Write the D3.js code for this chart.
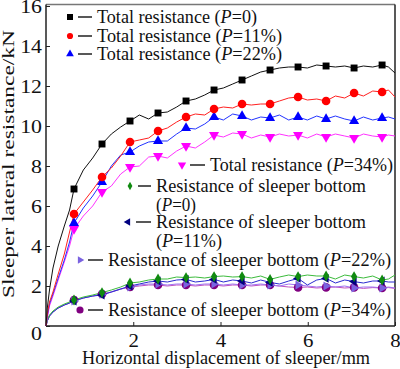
<!DOCTYPE html>
<html><head><meta charset="utf-8">
<script src="https://cdn.jsdelivr.net/npm/d3@7"></script>
<style>body{margin:0;background:#fff}svg{display:block}text{font-family:"Liberation Serif","Times New Roman",serif;fill:#111}</style>
</head><body><svg id="c" width="400" height="369"></svg>
<script>
const xs = [0,0.03,0.08,0.16,0.28,0.42,0.54,0.642,0.856,1.07,1.284,1.498,1.712,1.926,2.14,2.354,2.568,2.782,2.996,3.21,3.424,3.638,3.852,4.066,4.28,4.494,4.708,4.922,5.136,5.35,5.564,5.778,5.992,6.206,6.42,6.634,6.848,7.062,7.276,7.49,7.704,7.85,8.0];
const totalP0  = [0,0.9,1.8,2.9,4.0,5.0,5.8,6.85,7.8,8.4,9.1,9.6,9.95,10.25,10.55,10.35,10.65,10.7,10.95,11.25,11.35,11.55,11.8,11.9,12.1,12.3,12.5,12.7,12.8,12.9,12.95,12.95,12.9,13.05,13.0,12.95,13.0,12.9,13.0,12.95,13.05,12.95,12.65];
const totalP11 = [0,0.6,1.2,1.7,2.6,3.6,4.7,5.6,6.2,6.8,7.45,7.9,8.5,9.2,9.3,9.4,9.75,9.9,10.2,10.45,10.6,10.55,10.85,10.95,10.9,11.1,11.05,11.1,11.1,11.25,11.4,11.45,11.3,11.35,11.25,11.5,11.4,11.65,11.5,11.75,11.7,11.8,11.45];
const totalP22 = [0,0.5,1.1,1.6,2.4,3.3,4.2,5.15,5.9,6.5,7.2,8.0,8.55,8.7,9.0,9.2,9.25,9.25,9.6,9.9,9.85,10.1,10.45,10.3,10.6,10.5,10.3,10.45,10.4,10.55,10.3,10.45,10.3,10.5,10.35,10.5,10.35,10.25,10.45,10.3,10.4,10.45,10.35];
const totalP34 = [0,0.4,1.0,1.5,2.3,3.2,4.0,4.85,5.5,6.0,6.7,7.0,7.6,7.95,8.0,8.45,8.5,8.4,8.75,9.0,8.9,9.2,9.55,9.45,9.65,9.6,9.4,9.55,9.45,9.6,9.5,9.55,9.4,9.6,9.45,9.6,9.5,9.4,9.6,9.5,9.45,9.55,9.5];
const bottomP0  = [0,0.3,0.55,0.75,0.95,1.1,1.2,1.3,1.45,1.55,1.67,1.8,1.95,2.15,2.2,2.3,2.35,2.35,2.45,2.42,2.45,2.4,2.47,2.5,2.45,2.47,2.4,2.5,2.33,2.45,2.55,2.47,2.55,2.5,2.5,2.35,2.55,2.47,2.4,2.5,2.3,2.35,2.55];
const bottomP11 = [0,0.25,0.5,0.7,0.9,1.05,1.15,1.25,1.4,1.5,1.55,1.7,1.85,2.0,2.1,2.2,2.25,2.2,2.3,2.33,2.2,2.25,2.33,2.2,2.3,2.25,2.15,2.3,2.18,2.1,2.25,2.38,2.05,2.3,2.38,2.15,2.3,2.22,2.15,2.25,2.25,2.2,2.2];
const bottomP22 = [0,0.25,0.5,0.7,0.9,1.05,1.15,1.25,1.4,1.5,1.58,1.7,1.85,1.95,2.05,2.1,2.1,2.05,2.1,2.1,2.05,2.1,2.1,2.05,2.1,2.05,2.05,2.1,2.05,2.0,2.1,2.05,2.0,1.95,2.0,1.95,2.0,1.9,1.95,1.95,1.9,1.95,1.9];
const bottomP34 = [0,0.25,0.5,0.7,0.9,1.05,1.15,1.3,1.4,1.5,1.6,1.7,1.85,1.95,2.0,2.05,2.05,2.0,2.05,2.05,2.0,2.05,2.05,2.0,2.05,2.05,2.0,2.05,2.05,2.0,1.95,1.93,1.95,1.9,1.93,1.95,1.9,1.93,1.88,1.92,1.9,1.92,1.88];
const xTicks = [0,2,4,6,8];
const yTicks = [0,2,4,6,8,10,12,14,16];

const series = [
  {name:"Total resistance", p:"0",   v:totalP0,  line:"#111", fill:"#000", shape:"square"},
  {name:"Total resistance", p:"11%", v:totalP11, line:"#ff2020", fill:"#ff0000", shape:"circle"},
  {name:"Total resistance", p:"22%", v:totalP22, line:"#2233ff", fill:"#0000ff", shape:"tri"},
  {name:"Total resistance", p:"34%", v:totalP34, line:"#ff33ff", fill:"#ff00ff", shape:"trid"},
  {name:"Resistance of sleeper bottom", p:"0",   v:bottomP0,  line:"#3cbb3c", fill:"#108a10", shape:"diamond"},
  {name:"Resistance of sleeper bottom", p:"11%", v:bottomP11, line:"#2a2ad0", fill:"#000080", shape:"tril"},
  {name:"Resistance of sleeper bottom", p:"22%", v:bottomP22, line:"#a070f0", fill:"#7a62e0", shape:"trir"},
  {name:"Resistance of sleeper bottom", p:"34%", v:bottomP34, line:"#c050c0", fill:"#800080", shape:"circle"}
];

const svg = d3.select("#c");
const L=46, R=395, T=6, B=326;
const x = d3.scaleLinear().domain([0,8]).range([L,R]);
const y = d3.scaleLinear().domain([0,16]).range([B,T]);

function sym(shape, size){
  if(shape==="square") return d3.symbol(d3.symbolSquare, size)();
  if(shape==="circle") return d3.symbol(d3.symbolCircle, size)();
  if(shape==="diamond") return d3.symbol(d3.symbolDiamond, size)();
  return d3.symbol(d3.symbolTriangle, size)();
}
function rot(shape){ return shape==="trid"?180:shape==="tril"?-90:shape==="trir"?90:0; }
const msize = {square:48,circle:58,tri:44,trid:44,diamond:34,tril:34,trir:34};
function stretch(sel,k){ sel.each(function(){ const e=d3.select(this); const tx=+(e.attr("x")||0), ty=+(e.attr("y")||0);
  e.attr("transform",`translate(${tx},${ty}) scale(${k},1) translate(${-tx},${-ty})`); }); }

// axes
const xAxis = d3.axisBottom(x).tickValues(xTicks).tickSize(-4).tickPadding(8).tickFormat(d=>d===0?"":d);
const gx = svg.append("g").attr("transform",`translate(0,${B})`).call(xAxis);
const yAxis = d3.axisLeft(y).tickValues(yTicks).tickSize(-4).tickPadding(4);
const gy = svg.append("g").attr("transform",`translate(${L},0)`).call(yAxis);
[gx,gy].forEach(g=>{g.select(".domain").remove();g.selectAll("line").attr("stroke","#222");
  g.selectAll("text").attr("font-family","Liberation Serif").attr("font-size",19).attr("fill","#111");});
stretch(gx.selectAll("text"),1.1);
stretch(gy.selectAll("text"),1.15);
gy.selectAll(".tick").filter(d=>d===0).select("text").attr("dy","0.72em");

// frame
const F = T-1.5;
svg.append("line").attr("x1",L).attr("x2",R).attr("y1",F).attr("y2",F).attr("stroke","#777").attr("stroke-width",1.5);
svg.append("line").attr("x1",R).attr("x2",R).attr("y1",F).attr("y2",B).attr("stroke","#222").attr("stroke-width",1.5);
svg.append("line").attr("x1",L).attr("x2",L).attr("y1",F).attr("y2",B).attr("stroke","#222").attr("stroke-width",1.5);
svg.append("line").attr("x1",L).attr("x2",R).attr("y1",B).attr("y2",B).attr("stroke","#222").attr("stroke-width",1.5);

const plot = svg.append("g");
const line = d3.line().x((d,i)=>x(xs[i])).y(d=>y(d));
series.slice().reverse().forEach(s=>{
  plot.append("path").datum(s.v).attr("d",line).attr("fill","none").attr("stroke",s.line).attr("stroke-width",1);
});
series.slice().reverse().forEach(s=>{
  const pts = s.v.map((v,i)=>({i,v})).filter(d=>d.i>=7 && (d.i-7)%3===0);
  plot.selectAll(null).data(pts).enter().append("path")
    .attr("d",sym(s.shape, msize[s.shape]))
    .attr("transform",d=>`translate(${x(xs[d.i])},${y(d.v)}) rotate(${rot(s.shape)})`)
    .attr("fill",s.fill);
});

// legend
const leg = [
  {mx:70, my:17, tx:97, ms:36, lines:[["Total resistance (", "0", ")",160]]},
  {mx:70, my:36, tx:97, ms:30, lines:[["Total resistance (", "11%", ")",185]]},
  {mx:70, my:54, tx:97, ms:26, lines:[["Total resistance (", "22%", ")",185]]},
  {mx:182,my:165,tx:210,ms:30, lines:[["Total resistance (", "34%", ")",183]]},
  {mx:130,my:186,tx:156,ms:20, lines:[["Resistance of sleeper bottom",null,"",210],["(","0",")",40]]},
  {mx:128,my:222,tx:156,ms:24, lines:[["Resistance of sleeper bottom",null,"",210],["(","11%",")",66]]},
  {mx:80, my:260,tx:108,ms:24, lines:[["Resistance of sleeper bottom (","22%",")",283]]},
  {mx:80, my:310,tx:108,ms:40, lines:[["Resistance of sleeper bottom (","34%",")",283]]}
];
leg.forEach((l,k)=>{
  const s = series[k];
  svg.append("path").attr("d",sym(s.shape,l.ms)).attr("transform",`translate(${l.mx},${l.my}) rotate(${rot(s.shape)})`).attr("fill",s.fill);
  svg.append("line").attr("x1",l.mx+8).attr("x2",l.tx-5).attr("y1",l.my).attr("y2",l.my).attr("stroke","#111").attr("stroke-width",1.4);
  l.lines.forEach((ln,j)=>{
    const t = svg.append("text").attr("x",l.tx).attr("y",l.my+j*19).attr("dy","0.36em").attr("font-size",18)
      .attr("textLength",ln[3]).attr("lengthAdjust","spacingAndGlyphs");
    t.append("tspan").text(ln[0]);
    if(ln[1]!==null){
      t.append("tspan").attr("font-style","italic").text("P");
      t.append("tspan").text("="+ln[1]+ln[2]);
    }
  });
});

// titles
svg.append("text").attr("x",226).attr("y",364).attr("text-anchor","middle").attr("font-size",18.5)
  .attr("textLength",288).attr("lengthAdjust","spacingAndGlyphs").text("Horizontal displacement of sleeper/mm");
svg.append("text").attr("transform",`translate(14,164) rotate(-90)`).attr("text-anchor","middle").attr("font-size",17)
  .attr("textLength",268).attr("lengthAdjust","spacingAndGlyphs").text("Sleeper lateral resistance/kN");
</script></body></html>
